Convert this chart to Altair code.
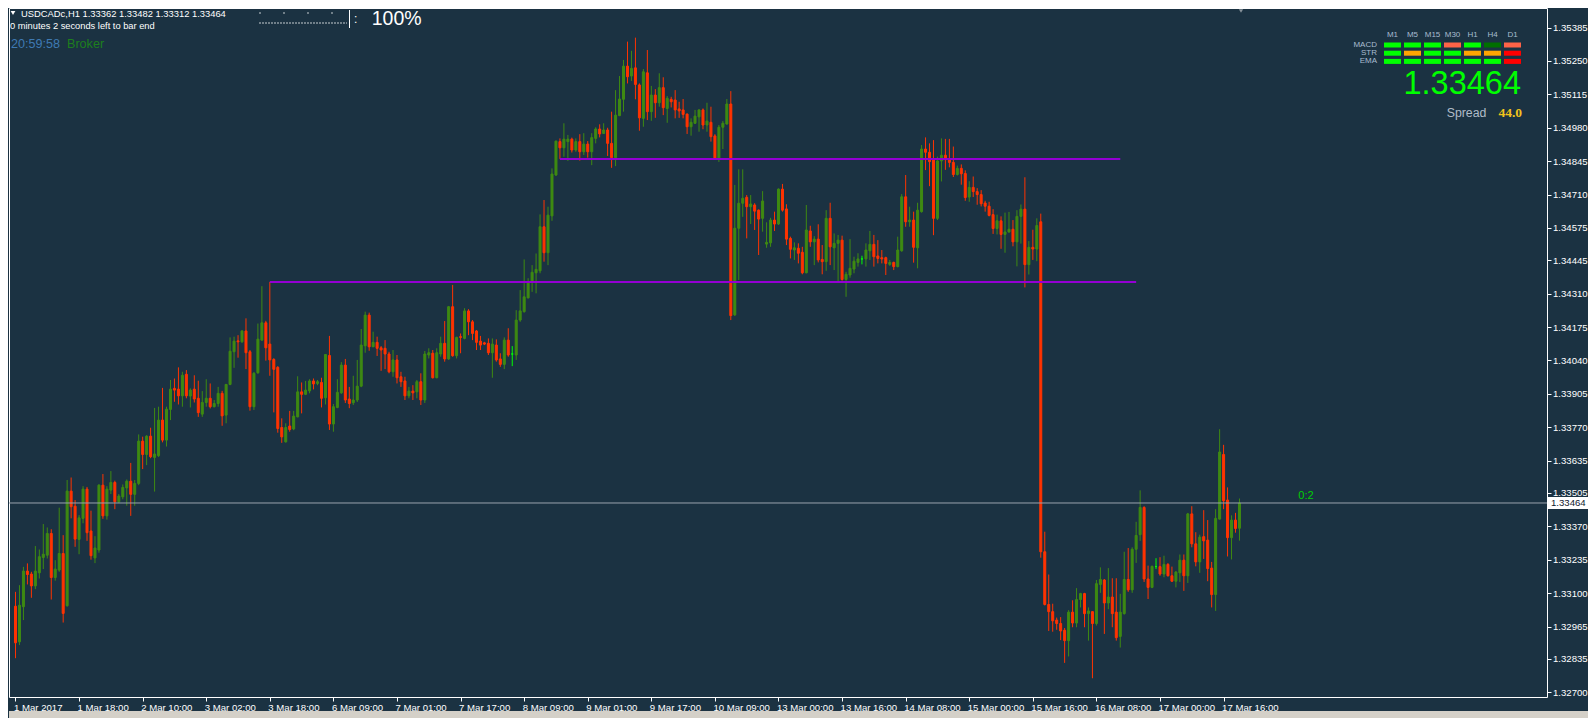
import altair as alt
import pandas as pd

# ---------------- data (USDCADc, H1) ----------------
OPEN = [
1.33047,1.32903,1.33045,1.33189,1.33177,1.33129,1.33182,1.33244,1.33253,1.33341,
1.33163,1.33193,1.33260,1.33049,1.33512,1.33451,1.33317,1.33402,1.33520,1.33351,
1.33242,1.33274,1.33536,1.33412,1.33516,1.33547,1.33469,1.33489,1.33525,1.33552,
1.33499,1.33543,1.33714,1.33660,1.33734,1.33648,1.33655,1.33799,1.33718,1.33842,
1.33927,1.33924,1.33897,1.33984,1.33896,1.33924,1.33887,1.33823,1.33870,1.33887,
1.33853,1.33866,1.33907,1.33819,1.33943,1.34075,1.34119,1.34115,1.34159,1.34075,
1.33853,1.33990,1.34122,1.34192,1.34106,1.34044,1.34012,1.33769,1.33711,1.33775,
1.33763,1.33812,1.33913,1.33903,1.33917,1.33957,1.33947,1.33951,1.33889,1.34060,
1.33783,1.33850,1.33909,1.34021,1.33884,1.33869,1.33880,1.33936,1.34099,1.34223,
1.34095,1.34113,1.34091,1.34089,1.34066,1.33994,1.34042,1.33974,1.33957,1.33897,
1.33916,1.33913,1.33954,1.33880,1.34062,1.34069,1.33970,1.34066,1.34109,1.34046,
1.34257,1.34059,1.34136,1.34129,1.34240,1.34196,1.34159,1.34118,1.34111,1.34109,
1.34071,1.34102,1.34046,1.34024,1.34122,1.34066,1.34062,1.34203,1.34237,1.34293,
1.34358,1.34394,1.34402,1.34580,1.34475,1.34624,1.34789,1.34924,1.34899,1.34924,
1.34934,1.34890,1.34924,1.34883,1.34914,1.34883,1.34937,1.34975,1.34957,1.34971,
1.34917,1.34859,1.35029,1.35095,1.35229,1.35189,1.35222,1.35153,1.35018,1.35202,
1.35045,1.35112,1.35081,1.35142,1.35058,1.35095,1.35092,1.35056,1.35052,1.35035,
1.34984,1.34998,1.35024,1.35052,1.34991,1.35002,1.34947,1.34857,1.34982,1.34995,
1.35076,1.34224,1.34574,1.34675,1.34699,1.34661,1.34668,1.34647,1.34614,1.34510,
1.34515,1.34607,1.34591,1.34732,1.34652,1.34533,1.34486,1.34493,1.34477,1.34394,
1.34563,1.34519,1.34530,1.34448,1.34439,1.34614,1.34495,1.34513,1.34526,1.34367,
1.34385,1.34409,1.34436,1.34450,1.34450,1.34483,1.34509,1.34462,1.34455,1.34455,
1.34428,1.34436,1.34419,1.34483,1.34701,1.34600,1.34607,1.34495,1.34641,1.34894,
1.34881,1.34850,1.34614,1.34846,1.34869,1.34852,1.34840,1.34791,1.34816,1.34795,
1.34700,1.34739,1.34722,1.34710,1.34676,1.34663,1.34629,1.34573,1.34604,1.34549,
1.34559,1.34570,1.34519,1.34622,1.34651,1.34427,1.34497,1.34490,1.34600,1.33267,
1.33054,1.33025,1.32991,1.32977,1.32950,1.32908,1.33023,1.32979,1.33074,1.33098,
1.33017,1.33025,1.32977,1.33135,1.33153,1.33060,1.33084,1.33023,1.32925,1.33017,
1.33155,1.33113,1.33277,1.33336,1.33446,1.33157,1.33123,1.33207,1.33207,1.33177,
1.33216,1.33170,1.33148,1.33182,1.33233,1.33170,1.33420,1.33299,1.33226,1.33328,
1.33314,1.33201,1.33094,1.33399,1.33660,1.33476,1.33324,1.33395,1.33362,
]
HIGH = [
1.33105,1.33132,1.33206,1.33220,1.33186,1.33290,1.33276,1.33379,1.33365,1.33358,
1.33233,1.33445,1.33334,1.33557,1.33567,1.33476,1.33415,1.33532,1.33529,1.33433,
1.33330,1.33540,1.33581,1.33532,1.33593,1.33554,1.33500,1.33539,1.33559,1.33626,
1.33557,1.33741,1.33732,1.33738,1.33768,1.33848,1.33853,1.33929,1.33853,1.33961,
1.33967,1.34012,1.33994,1.34001,1.33927,1.33980,1.33958,1.33916,1.33964,1.33947,
1.33880,1.33933,1.33917,1.33945,1.34133,1.34136,1.34142,1.34162,1.34210,1.34082,
1.33993,1.34189,1.34340,1.34200,1.34357,1.34049,1.34017,1.33806,1.33786,1.33836,
1.33836,1.33976,1.33951,1.33957,1.33964,1.33967,1.33961,1.33970,1.34066,1.34139,
1.33864,1.33964,1.34033,1.34046,1.33933,1.33978,1.34042,1.34167,1.34237,1.34233,
1.34156,1.34136,1.34098,1.34122,1.34075,1.34082,1.34062,1.33994,1.33974,1.33933,
1.33940,1.33961,1.33988,1.34078,1.34089,1.34082,1.34089,1.34136,1.34199,1.34260,
1.34345,1.34136,1.34149,1.34251,1.34247,1.34203,1.34163,1.34139,1.34115,1.34129,
1.34129,1.34125,1.34069,1.34133,1.34170,1.34098,1.34243,1.34324,1.34448,1.34372,
1.34425,1.34472,1.34630,1.34688,1.34661,1.34816,1.34928,1.34937,1.34998,1.34951,
1.34940,1.34937,1.34954,1.34958,1.34926,1.34958,1.34982,1.34994,1.34998,1.34980,
1.35045,1.35132,1.35189,1.35254,1.35328,1.35291,1.35344,1.35159,1.35217,1.35294,
1.35149,1.35136,1.35200,1.35184,1.35108,1.35105,1.35132,1.35085,1.35096,1.35038,
1.35018,1.35052,1.35054,1.35058,1.35081,1.35065,1.34954,1.34991,1.35007,1.35096,
1.35128,1.34749,1.34812,1.34812,1.34708,1.34708,1.34675,1.34650,1.34724,1.34598,
1.34616,1.34641,1.34735,1.34753,1.34671,1.34540,1.34517,1.34513,1.34499,1.34668,
1.34584,1.34542,1.34590,1.34506,1.34647,1.34677,1.34553,1.34547,1.34544,1.34398,
1.34530,1.34459,1.34473,1.34463,1.34513,1.34563,1.34547,1.34526,1.34486,1.34459,
1.34446,1.34439,1.34540,1.34712,1.34789,1.34661,1.34641,1.34677,1.34910,1.34941,
1.34917,1.34930,1.34863,1.34937,1.34935,1.34935,1.34904,1.34827,1.34832,1.34808,
1.34764,1.34783,1.34736,1.34728,1.34685,1.34681,1.34651,1.34629,1.34622,1.34637,
1.34640,1.34607,1.34647,1.34670,1.34780,1.34522,1.34568,1.34614,1.34633,1.33348,
1.33175,1.33057,1.33001,1.33003,1.32959,1.33031,1.33071,1.33120,1.33101,1.33101,
1.33042,1.33027,1.33153,1.33204,1.33157,1.33201,1.33160,1.33160,1.33097,1.33267,
1.33282,1.33285,1.33388,1.33515,1.33451,1.33211,1.33211,1.33241,1.33245,1.33251,
1.33221,1.33207,1.33189,1.33256,1.33256,1.33424,1.33451,1.33346,1.33336,1.33435,
1.33395,1.33226,1.33439,1.33762,1.33699,1.33527,1.33414,1.33424,1.33482,
]
LOW = [
1.32837,1.32890,1.32991,1.33135,1.33081,1.33116,1.33159,1.33197,1.33240,1.33074,
1.33150,1.33186,1.32981,1.33045,1.33402,1.33287,1.33257,1.33382,1.33311,1.33235,
1.33221,1.33263,1.33400,1.33397,1.33500,1.33439,1.33464,1.33479,1.33453,1.33412,
1.33453,1.33536,1.33601,1.33617,1.33645,1.33510,1.33650,1.33709,1.33692,1.33799,
1.33873,1.33862,1.33853,1.33887,1.33850,1.33870,1.33812,1.33812,1.33853,1.33846,
1.33850,1.33853,1.33776,1.33786,1.33940,1.34010,1.34051,1.34111,1.34005,1.33837,
1.33840,1.33986,1.34119,1.34039,1.33978,1.33830,1.33748,1.33707,1.33708,1.33752,
1.33758,1.33810,1.33826,1.33900,1.33907,1.33923,1.33940,1.33850,1.33862,1.33759,
1.33752,1.33847,1.33905,1.33868,1.33847,1.33860,1.33872,1.33932,1.34071,1.34079,
1.34094,1.34058,1.33998,1.34005,1.33988,1.33974,1.33947,1.33933,1.33880,1.33887,
1.33880,1.33887,1.33860,1.33868,1.34048,1.33967,1.33968,1.34055,1.34035,1.34042,
1.34055,1.34048,1.34069,1.34125,1.34142,1.34122,1.34082,1.34082,1.34102,1.34062,
1.33970,1.34035,1.34014,1.34005,1.34055,1.34017,1.34042,1.34196,1.34233,1.34290,
1.34317,1.34311,1.34392,1.34439,1.34425,1.34604,1.34785,1.34854,1.34863,1.34846,
1.34880,1.34883,1.34847,1.34870,1.34859,1.34829,1.34917,1.34941,1.34955,1.34866,
1.34818,1.34825,1.35027,1.35045,1.35159,1.35169,1.35095,1.34968,1.34984,1.35011,
1.35008,1.35020,1.35065,1.35031,1.35000,1.35062,1.35018,1.35020,1.35018,1.34955,
1.34948,1.34995,1.34964,1.34974,1.34964,1.34924,1.34850,1.34842,1.34894,1.34993,
1.34203,1.34220,1.34365,1.34620,1.34533,1.34591,1.34567,1.34466,1.34560,1.34495,
1.34499,1.34563,1.34587,1.34641,1.34506,1.34452,1.34446,1.34432,1.34388,1.34392,
1.34499,1.34425,1.34436,1.34388,1.34402,1.34425,1.34405,1.34358,1.34362,1.34297,
1.34374,1.34392,1.34419,1.34428,1.34419,1.34446,1.34419,1.34432,1.34432,1.34385,
1.34422,1.34405,1.34416,1.34479,1.34580,1.34580,1.34435,1.34412,1.34637,1.34809,
1.34744,1.34546,1.34607,1.34763,1.34810,1.34820,1.34781,1.34787,1.34750,1.34685,
1.34681,1.34700,1.34669,1.34662,1.34641,1.34622,1.34551,1.34549,1.34491,1.34475,
1.34556,1.34501,1.34420,1.34512,1.34335,1.34387,1.34446,1.34441,1.33243,1.33050,
1.32947,1.32944,1.32952,1.32910,1.32818,1.32844,1.32962,1.32962,1.33042,1.32962,
1.32908,1.32756,1.32969,1.33101,1.32935,1.33035,1.32962,1.32908,1.32880,1.33013,
1.33105,1.33101,1.33222,1.33311,1.33145,1.33076,1.33120,1.33197,1.33170,1.33164,
1.33167,1.33145,1.33123,1.33145,1.33109,1.33141,1.33285,1.33208,1.33182,1.33238,
1.33148,1.33042,1.33028,1.33397,1.33439,1.33248,1.33236,1.33344,1.33312,
]
CLOSE = [
1.32899,1.33051,1.33189,1.33175,1.33129,1.33189,1.33247,1.33257,1.33341,1.33163,
1.33197,1.33260,1.33018,1.33512,1.33449,1.33318,1.33404,1.33520,1.33344,1.33251,
1.33282,1.33536,1.33412,1.33520,1.33547,1.33469,1.33492,1.33527,1.33552,1.33499,
1.33543,1.33714,1.33660,1.33734,1.33651,1.33662,1.33799,1.33718,1.33843,1.33924,
1.33920,1.33897,1.33980,1.33897,1.33920,1.33884,1.33829,1.33870,1.33887,1.33853,
1.33866,1.33907,1.33816,1.33943,1.34077,1.34118,1.34115,1.34159,1.34071,1.33853,
1.33988,1.34126,1.34192,1.34091,1.34042,1.34004,1.33765,1.33731,1.33769,1.33761,
1.33815,1.33913,1.33903,1.33920,1.33957,1.33945,1.33954,1.33887,1.34064,1.33783,
1.33853,1.33911,1.34021,1.33880,1.33866,1.33880,1.33936,1.34102,1.34223,1.34095,
1.34113,1.34089,1.34082,1.34066,1.33994,1.34042,1.33970,1.33954,1.33897,1.33916,
1.33909,1.33954,1.33880,1.34066,1.34071,1.33970,1.34071,1.34109,1.34046,1.34257,
1.34059,1.34133,1.34133,1.34240,1.34196,1.34149,1.34113,1.34102,1.34106,1.34071,
1.34106,1.34042,1.34024,1.34122,1.34062,1.34066,1.34203,1.34240,1.34297,1.34358,
1.34396,1.34408,1.34580,1.34475,1.34627,1.34793,1.34926,1.34899,1.34934,1.34934,
1.34890,1.34924,1.34883,1.34914,1.34883,1.34940,1.34975,1.34955,1.34971,1.34917,
1.34859,1.35031,1.35096,1.35229,1.35186,1.35220,1.35155,1.35020,1.35206,1.35045,
1.35112,1.35081,1.35142,1.35061,1.35099,1.35085,1.35052,1.35048,1.35034,1.34984,
1.35002,1.35027,1.35052,1.34991,1.35007,1.34944,1.34857,1.34982,1.34998,1.35076,
1.34221,1.34574,1.34675,1.34695,1.34661,1.34672,1.34643,1.34611,1.34684,1.34517,
1.34607,1.34591,1.34732,1.34647,1.34530,1.34489,1.34495,1.34473,1.34394,1.34567,
1.34519,1.34530,1.34446,1.34439,1.34614,1.34499,1.34513,1.34526,1.34367,1.34388,
1.34412,1.34441,1.34450,1.34450,1.34486,1.34509,1.34459,1.34452,1.34450,1.34432,
1.34436,1.34419,1.34486,1.34701,1.34600,1.34607,1.34497,1.34647,1.34894,1.34881,
1.34843,1.34614,1.34846,1.34869,1.34852,1.34840,1.34791,1.34816,1.34794,1.34698,
1.34739,1.34722,1.34710,1.34673,1.34663,1.34626,1.34573,1.34604,1.34549,1.34559,
1.34570,1.34519,1.34622,1.34651,1.34427,1.34497,1.34490,1.34585,1.33267,1.33054,
1.33025,1.32988,1.32977,1.32947,1.32908,1.33023,1.32979,1.33074,1.33098,1.33017,
1.33028,1.32977,1.33138,1.33155,1.33060,1.33084,1.33017,1.32920,1.33023,1.33155,
1.33113,1.33277,1.33333,1.33446,1.33157,1.33123,1.33208,1.33207,1.33177,1.33216,
1.33170,1.33148,1.33185,1.33233,1.33170,1.33420,1.33299,1.33226,1.33326,1.33311,
1.33199,1.33094,1.33402,1.33670,1.33473,1.33324,1.33395,1.33361,1.33464,
]

X_TICK_BARS = [0, 16, 32, 48, 64, 80, 96, 112, 128, 144, 160, 176, 192, 208, 224, 240, 256, 272, 288, 304]
X_TICK_LABELS = ["1 Mar 2017", "1 Mar 18:00", "2 Mar 10:00", "3 Mar 02:00", "3 Mar 18:00",
                 "6 Mar 09:00", "7 Mar 01:00", "7 Mar 17:00", "8 Mar 09:00", "9 Mar 01:00",
                 "9 Mar 17:00", "10 Mar 09:00", "13 Mar 00:00", "13 Mar 16:00", "14 Mar 08:00",
                 "15 Mar 00:00", "15 Mar 16:00", "16 Mar 08:00", "17 Mar 00:00", "17 Mar 16:00"]
Y_TICKS = [1.35385, 1.35250, 1.35115, 1.34980, 1.34845, 1.34710, 1.34575, 1.34445, 1.34310,
           1.34175, 1.34040, 1.33905, 1.33770, 1.33635, 1.33505, 1.33370, 1.33235, 1.33100,
           1.32965, 1.32835, 1.32700]

LEVEL_START = [64, 137]
LEVEL_END = [282, 278]
LEVEL_PRICE = [1.34357, 1.34854]

BID = 1.33464
SYMBOL_LINE = "USDCADc,H1  1.33362 1.33482 1.33312 1.33464"
TIMER_LINE = "0 minutes 2 seconds left to bar end"
CLOCK = "20:59:58"
SPREAD = "44.0"
TIMEFRAMES = ["M1", "M5", "M15", "M30", "H1", "H4", "D1"]
SIGNAL_ROWS = ["MACD", "STR", "EMA"]
SIGNALS = [
    ["up", "up", "up", "down", "up", "weak", "down"],
    ["up", "flat", "up", "up", "flat", "flat", "strong"],
    ["up", "up", "up", "up", "up", "up", "strong"],
]

# ---------------- styling ----------------
BG = "#1b3242"
UP = "#3e8a12"
DOWN = "#ff3300"
DOJI = "#00ff00"
STATE_COLORS = {"up": "#00ff00", "down": "#ff6347", "weak": "#006f00",
                "flat": "#ffa500", "strong": "#ff0000"}
FONT = "Liberation Sans"
AX_FS = 9.6
W, H = 1538, 689
X_DOMAIN = [-0.375, -0.375 + W / 4.0]
Y_DOMAIN = [1.326802, 1.354638]

df = pd.DataFrame({"i": list(range(len(OPEN))), "o": OPEN, "h": HIGH, "l": LOW, "c": CLOSE})
df["dir"] = ["up" if c > o else ("down" if c < o else "doji") for o, c in zip(df.o, df.c)]
df["top"] = df[["h", "o", "c"]].max(axis=1)
df["bot"] = df[["l", "o", "c"]].min(axis=1)

xs = alt.Scale(domain=X_DOMAIN, nice=False, zero=False)
ys = alt.Scale(domain=Y_DOMAIN, nice=False, zero=False)
cscale = alt.Scale(domain=["up", "down", "doji"], range=[UP, DOWN, DOJI])

label_expr = ("[" + ",".join("'%s'" % s for s in X_TICK_LABELS) + "][indexof("
              + str(X_TICK_BARS) + ", datum.value)]")
x_axis = alt.Axis(values=X_TICK_BARS, labelExpr=label_expr, title=None, grid=False, domain=False,
                  tickColor="#ffffff", tickSize=4, tickCount=60, labelColor="#ffffff", labelFont=FONT,
                  labelFontSize=AX_FS, labelAlign="left", labelBaseline="top", labelPadding=1,
                  labelOffset=-2, labelFlush=False, labelOverlap=False, orient="bottom")
y_axis = alt.Axis(values=Y_TICKS, format=".5f", title=None, grid=False, domain=False,
                  tickColor="#ffffff", tickSize=4, tickCount=60, labelColor="#ffffff", labelFont=FONT,
                  labelFontSize=AX_FS, labelPadding=1.5, labelFlush=False, labelOverlap=False,
                  orient="right")

base = alt.Chart(df)
wicks = base.mark_rule(strokeWidth=1, clip=True).encode(
    x=alt.X("i:Q", scale=xs, axis=x_axis),
    y=alt.Y("bot:Q", scale=ys, axis=y_axis),
    y2="top:Q",
    color=alt.Color("dir:N", scale=cscale, legend=None),
)
bodies = base.mark_bar(width=2, strokeWidth=1, clip=True).encode(
    x=alt.X("i:Q", scale=xs),
    y=alt.Y("o:Q", scale=ys),
    y2="c:Q",
    color=alt.Color("dir:N", scale=cscale, legend=None),
    stroke=alt.Stroke("dir:N", scale=cscale, legend=None),
)

lv = pd.DataFrame({"s": LEVEL_START, "e": LEVEL_END, "p": LEVEL_PRICE})
levels = alt.Chart(lv).mark_rule(color="#9400d3", strokeWidth=2).encode(
    x=alt.X("s:Q", scale=xs), x2="e:Q", y=alt.Y("p:Q", scale=ys))

bid_df = pd.DataFrame({"p": [BID], "t": ["%.5f" % BID]})
bid_line = alt.Chart(bid_df).mark_rule(color="#9aa3ad", strokeWidth=1).encode(
    y=alt.Y("p:Q", scale=ys))
bid_tag = alt.Chart(bid_df).mark_rect(color="#ffffff", width=40, height=12).encode(
    x=alt.value(W + 21), y=alt.Y("p:Q", scale=ys))
bid_txt = alt.Chart(bid_df).mark_text(align="left", baseline="middle", font=FONT, fontSize=AX_FS,
                                      color="#102030").encode(
    x=alt.value(W + 4), y=alt.Y("p:Q", scale=ys), text="t:N")
ratio_txt = alt.Chart(bid_df).mark_text(align="center", baseline="bottom", font=FONT, fontSize=11,
                                        color="#00d000", dy=-2).encode(
    x=alt.value(1297), y=alt.Y("p:Q", scale=ys), text=alt.value("0:2"))

one = pd.DataFrame({"k": [0]})


def label(text, x, y, size, color, align="left", baseline="alphabetic", font=FONT, weight="normal"):
    return alt.Chart(one).mark_text(text=text, align=align, baseline=baseline, font=font,
                                    fontSize=size, color=color, fontWeight=weight).encode(
        x=alt.value(x), y=alt.value(y))


def box(x1, x2, y1, y2, color):
    return alt.Chart(one).mark_rect(color=color).encode(
        x=alt.value(x1), x2=alt.value(x2), y=alt.value(y1), y2=alt.value(y2))


# ---------------- signal panel (top right) ----------------
panel = []
for k, tf in enumerate(TIMEFRAMES):
    panel.append(label(tf, 1383.5 + 20 * k, 27, 8, "#a8bcd0", align="center", baseline="middle"))
for r, name in enumerate(SIGNAL_ROWS):
    panel.append(label(name, 1368, 37 + 8.2 * r, 8, "#a8bcd0", align="right", baseline="middle"))
    for k in range(len(TIMEFRAMES)):
        panel.append(box(1375 + 20 * k, 1392 + 20 * k, 34.5 + 8.2 * r, 39.5 + 8.2 * r,
                         STATE_COLORS[SIGNALS[r][k]]))

# ---------------- header annotations ----------------
arrow = alt.Chart(one).mark_point(shape="triangle-down", filled=True, size=22, color="#ffffff",
                                  opacity=1).encode(x=alt.value(4), y=alt.value(5))
shift_mark = alt.Chart(one).mark_point(shape="triangle-down", filled=True, size=18, color="#8a949c",
                                       opacity=1).encode(x=alt.value(1232), y=alt.value(3))
dots_top = alt.Chart(one).mark_rule(color="#ffffff", strokeWidth=1.5, strokeDash=[1, 23]).encode(
    x=alt.value(250.5), x2=alt.value(324), y=alt.value(5))
dots_bot = alt.Chart(one).mark_rule(color="#ffffff", strokeWidth=1.5, strokeDash=[1, 2]).encode(
    x=alt.value(250.5), x2=alt.value(338), y=alt.value(15))
bar_cursor = alt.Chart(one).mark_rule(color="#ffffff", strokeWidth=1).encode(
    x=alt.value(340.5), y=alt.value(2), y2=alt.value(20))
bottom_strip = box(0, W + 41, 703, 712, "#d4d0c8")

annots = [
    arrow, shift_mark, dots_top, dots_bot, bar_cursor, bottom_strip,
    label(SYMBOL_LINE, 12, 8.7, 9.4, "#ffffff", baseline="alphabetic"),
    label(TIMER_LINE, 1, 20.5, 9.3, "#ffffff"),
    label(CLOCK, 2, 40.3, 12.6, "#3f7ab3"),
    label("Broker", 58, 40.3, 12.6, "#1d7f1d"),
    label(":", 345, 15, 12, "#ffffff"),
    label("100%", 362.7, 1.5, 19.5, "#ffffff", baseline="top"),
    label("%.5f" % BID, 1512, 86, 32.5, "#00ff00", align="right"),
    label("Spread", 1437.7, 109.3, 12.3, "#b0bcc8"),
    label(SPREAD, 1513, 109.3, 13.5, "#f2c21b", align="right", font="Liberation Serif", weight="bold"),
]

chart = alt.layer(
    wicks, bodies, levels, bid_line, bid_tag, bid_txt, ratio_txt, *panel, *annots
).properties(
    width=W, height=H, padding=0, background=BG
).configure_view(
    stroke="#ffffff", strokeWidth=1, fill=BG
)

chart.save("out.html", embed_options={"renderer": "svg", "actions": False})
